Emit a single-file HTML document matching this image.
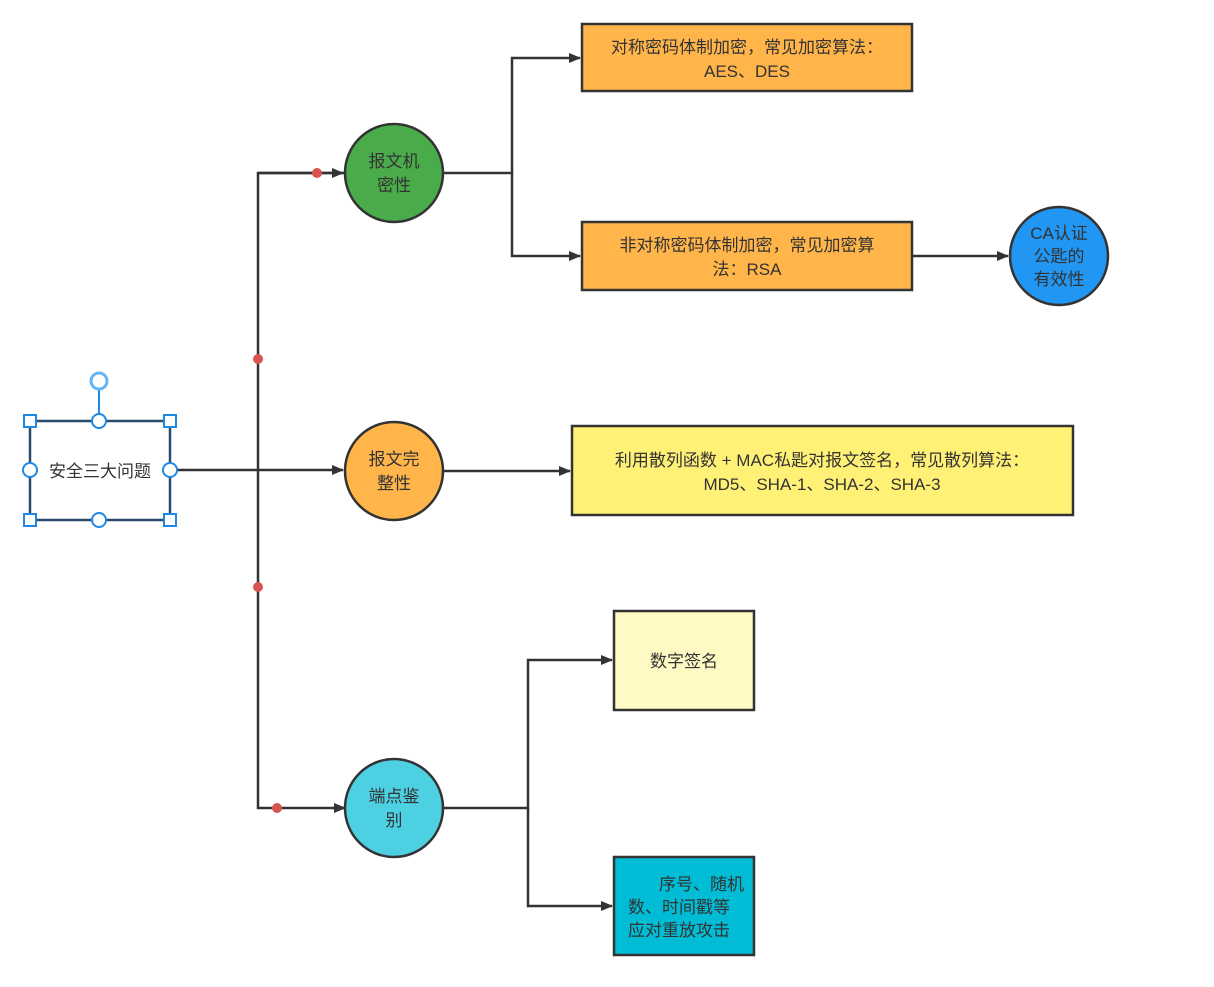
<!DOCTYPE html>
<html><head><meta charset="utf-8"><style>
body{margin:0;background:#fff}
text{font-family:"Liberation Sans","Noto Sans CJK SC",sans-serif;font-size:17px;fill:#333;text-anchor:middle}
</style></head><body>
<svg width="1214" height="982" xmlns="http://www.w3.org/2000/svg">
<defs><marker id="a" markerWidth="12" markerHeight="10" refX="11" refY="5" orient="auto" markerUnits="userSpaceOnUse"><path d="M0,0 L12,5 L0,10 Z" fill="#333"/></marker></defs>
<g stroke="#333" stroke-width="2.5" fill="none">
<path d="M345,173 H258 V808 H345" marker-end="url(#a)"/>
<path d="M258,173 H343" marker-end="url(#a)"/>
<path d="M170,470 H343" marker-end="url(#a)"/>
<path d="M443,173 H512 V58 H580" marker-end="url(#a)"/>
<path d="M512,173 V256 H580" marker-end="url(#a)"/>
<path d="M912,256 H1008" marker-end="url(#a)"/>
<path d="M443,471 H570" marker-end="url(#a)"/>
<path d="M443,808 H528 V660 H612" marker-end="url(#a)"/>
<path d="M528,808 V906 H612" marker-end="url(#a)"/>
</g>
<g fill="#d9534f"><circle cx="317" cy="173" r="5"/><circle cx="258" cy="359" r="5"/><circle cx="258" cy="587" r="5"/><circle cx="277" cy="808" r="5"/></g>
<g stroke="#333" stroke-width="2.5">
<circle cx="394" cy="173" r="49" fill="#4aab4a"/>
<circle cx="394" cy="471" r="49" fill="#ffb54a"/>
<circle cx="394" cy="808" r="49" fill="#4dd0e1"/>
<circle cx="1059" cy="256" r="49" fill="#2196f3"/>
<rect x="582" y="24" width="330" height="67" fill="#ffb54a"/>
<rect x="582" y="222" width="330" height="68" fill="#ffb54a"/>
<rect x="572" y="426" width="501" height="89" fill="#fff176"/>
<rect x="614" y="611" width="140" height="99" fill="#fff9c4"/>
<rect x="614" y="857" width="140" height="98" fill="#00bcd4"/>
<rect x="30" y="421" width="140" height="99" fill="#fff" stroke="#2b4a6b"/>
</g>
<g stroke="#1e88e5" stroke-width="2" fill="#fff">
<line x1="99" y1="389" x2="99" y2="421"/>
<circle cx="99" cy="381" r="8" stroke="#64b5f6" stroke-width="3"/>
<rect x="24" y="415" width="12" height="12"/><rect x="164" y="415" width="12" height="12"/>
<rect x="24" y="514" width="12" height="12"/><rect x="164" y="514" width="12" height="12"/>
<circle cx="99" cy="421" r="7"/><circle cx="99" cy="520" r="7"/>
<circle cx="30" cy="470" r="7"/><circle cx="170" cy="470" r="7"/>
</g>
<text x="100" y="477">安全三大问题</text>
<text x="394" y="167">报文机</text><text x="394" y="191">密性</text>
<text x="394" y="465">报文完</text><text x="394" y="489">整性</text>
<text x="394" y="802">端点鉴</text><text x="394" y="826">别</text>
<text x="1059" y="239">CA认证</text><text x="1059" y="262">公匙的</text><text x="1059" y="285">有效性</text>
<text x="747" y="53">对称密码体制加密，常见加密算法：</text><text x="747" y="77">AES、DES</text>
<text x="747" y="251">非对称密码体制加密，常见加密算</text><text x="747" y="275">法：RSA</text>
<text x="822" y="466">利用散列函数 + MAC私匙对报文签名，常见散列算法：</text><text x="822" y="490">MD5、SHA-1、SHA-2、SHA-3</text>
<text x="684" y="667">数字签名</text>
<text x="659" y="890" style="text-anchor:start" x1="0">序号、随机</text>
<text x="628" y="913" style="text-anchor:start">数、时间戳等</text>
<text x="628" y="936" style="text-anchor:start">应对重放攻击</text>
</svg>
</body></html>
